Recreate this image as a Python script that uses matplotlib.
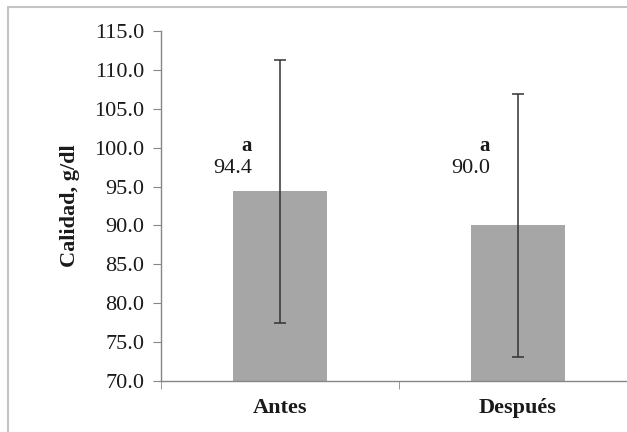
import matplotlib
matplotlib.use("Agg")
import matplotlib.pyplot as plt
from matplotlib.patches import Rectangle

categories = ["Antes", "Después"]
values = [94.4, 90.0]
errors = [16.9, 16.9]
value_labels = ["94.4", "90.0"]
letters = ["a", "a"]
yticks = [70, 75, 80, 85, 90, 95, 100, 105, 110, 115]

plt.rcParams['font.family'] = ['Liberation Serif', 'DejaVu Serif']

fig = plt.figure(figsize=(6.27, 4.32), dpi=100)
fig.patches.append(Rectangle((8/627, -0.05), 1.2, 1 - 7/432 + 0.05, transform=fig.transFigure,
                             fill=False, edgecolor='#c4c4c4', linewidth=1.5, clip_on=False))
ax = fig.add_axes([161/627, 1 - 381/432, 476/627, 350/432])

x = list(range(len(categories)))
ax.bar(x, values, width=0.395, color='#a6a6a6', zorder=2)
ax.errorbar(x, values, yerr=errors, fmt='none', ecolor='#333333', elinewidth=1.1,
            capsize=4, capthick=1.1, zorder=3)

for xi, v, lab, let in zip(x, values, value_labels, letters):
    ax.text(xi - 0.115, 96.1, lab, ha='right', va='bottom', fontsize=16, color='#1a1a1a')
    ax.text(xi - 0.14, 98.9, let, ha='center', va='bottom', fontsize=15, fontweight='bold', color='#1a1a1a')

ax.set_xlim(-0.5, 1.5)
ax.set_ylim(70, 115)
ax.set_yticks(yticks)
ax.set_yticklabels([f"{t:.1f}" for t in yticks], fontsize=16, color='#1a1a1a')
ax.set_xticks(x)
ax.set_xticklabels(categories, fontsize=16, fontweight='bold', color='#1a1a1a')
ax.tick_params(axis='x', length=0, pad=12)
ax.set_xticks([-0.5, 0.5, 1.5], minor=True)
ax.tick_params(axis='x', which='minor', length=6, color='#868686', direction='out')
ax.tick_params(axis='y', length=6, color='#868686', direction='out', pad=6)

for s in ['top', 'right']:
    ax.spines[s].set_visible(False)
for s in ['left', 'bottom']:
    ax.spines[s].set_color('#868686')
    ax.spines[s].set_linewidth(1.0)

ax.set_ylabel("Calidad, g/dl", fontsize=16, fontweight='bold', color='#1a1a1a', labelpad=10)

fig.savefig("out.png", dpi=100)
